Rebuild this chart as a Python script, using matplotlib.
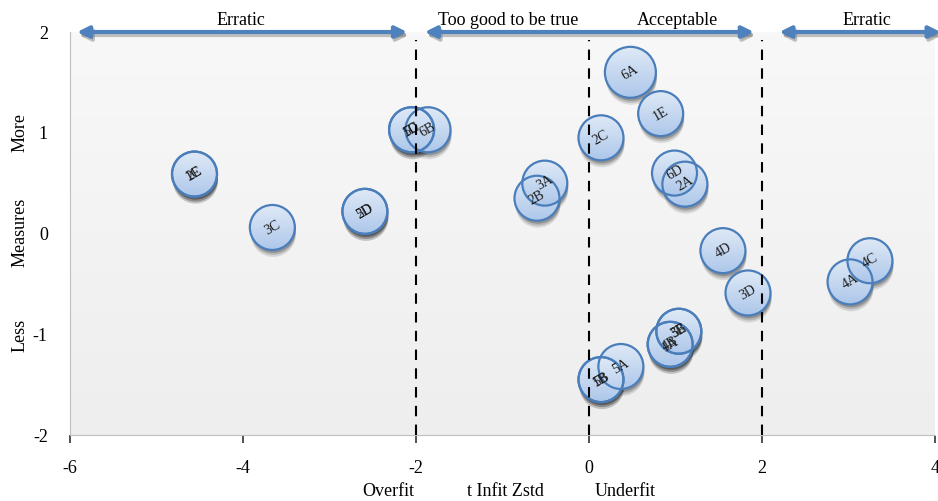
import numpy as np
import matplotlib
matplotlib.use('Agg')
from matplotlib import pyplot as plt
from matplotlib.patches import Ellipse, FancyArrowPatch

plt.rcParams['font.family'] = ['Liberation Serif', 'DejaVu Serif']
plt.rcParams['axes.unicode_minus'] = False

# items: label, infit zstd, measure
labels = ['1C', '2E', '3C', '2D', '5D', '6B', '1D', '5C', '6A', '1E', '2C',
          '2B', '3A', '2A', '6D', '4D', '3D', '4A', '4C', '5A', '1B', '5B',
          '1A', '4B', '5E', '3B']
infit = [-4.56, -4.56, -3.66, -2.59, -2.59, -1.86, -2.05, -2.05, 0.48, 0.83, 0.14,
         -0.60, -0.51, 1.11, 0.99, 1.55, 1.84, 3.02, 3.25, 0.37, 0.14, 0.14,
         0.94, 0.94, 1.04, 1.04]
measure = [0.59, 0.59, 0.06, 0.22, 0.22, 1.03, 1.03, 1.03, 1.60, 1.19, 0.95,
           0.35, 0.50, 0.49, 0.60, -0.17, -0.59, -0.48, -0.27, -1.32, -1.45, -1.45,
           -1.10, -1.10, -0.97, -0.97]
big = ['6A']

zones = ['Erratic', 'Too good to be true', 'Acceptable', 'Erratic']
zone_x = [-4.02, -0.93, 1.02, 3.21]
arrow_spans = [(-5.95, -2.07), (-1.93, 1.94), (2.17, 4.1)]
cut_lines = [-2, 0, 2]

fig = plt.figure(figsize=(9.38, 5.01), dpi=100)
ax = fig.add_axes([0.0746, 0.1317, 0.922, 0.8044])
ax.set_xlim(-6, 4)
ax.set_ylim(-2, 2)

# background gradient
grad = np.linspace(0, 1, 100).reshape(-1, 1)
bg = plt.matplotlib.colors.LinearSegmentedColormap.from_list('bg', ['#eeeeee', '#f8f8f8'])
ax.imshow(grad, extent=(-6, 4, -2, 2), origin='lower', aspect='auto', cmap=bg, zorder=0)

# bubble size in data units (pixels -> data)
px_x = 86.5
px_y = 100.75
bub = plt.matplotlib.colors.LinearSegmentedColormap.from_list('bub', ['#adc7ea', '#e0eaf7'])
for lab, x, y in zip(labels, infit, measure):
    d = 51 if lab in big else 45
    w, h = d / px_x, d / px_y
    # soft shadow
    for k, a in zip([7, 5, 3], [0.12, 0.18, 0.25]):
        sh = Ellipse((x + 1 / px_x, y - k / px_y), w, h, facecolor='#222222',
                     edgecolor='none', alpha=a, zorder=2)
        ax.add_patch(sh)
    e = Ellipse((x, y), w, h, facecolor='none', edgecolor='#4a7ebb', lw=1.6, zorder=4)
    fill = ax.imshow(grad, extent=(x - w / 2, x + w / 2, y - h / 2, y + h / 2),
                     origin='lower', aspect='auto', cmap=bub, zorder=3)
    clip = Ellipse((x, y), w, h, transform=ax.transData)
    fill.set_clip_path(clip)
    ax.add_patch(e)
    ax.text(x, y, lab, rotation=30, ha='center', va='center', fontsize=10,
            color='#1a1a1a', zorder=5)

ax.set_xlim(-6, 4)
ax.set_ylim(-2, 2)

for cx in cut_lines:
    ax.plot([cx, cx], [-2, 1.92], color='black', lw=1.5, ls=(0, (5, 4)), zorder=6)

# arrows on top
for x0, x1 in arrow_spans:
    sh = FancyArrowPatch((x0 + 0.02, 1.97), (x1 + 0.02, 1.97), arrowstyle='<|-|>',
                         mutation_scale=17, color='#7a7a7a', alpha=0.45, lw=3,
                         clip_on=False, zorder=7)
    ax.add_patch(sh)
    ar = FancyArrowPatch((x0, 2), (x1, 2), arrowstyle='<|-|>', mutation_scale=17,
                         color='#4f81bd', lw=3, clip_on=False, zorder=8)
    ax.add_patch(ar)
for t, x in zip(zones, zone_x):
    ax.text(x, 2.03, t, ha='center', va='bottom', fontsize=13, zorder=9)

for s in ['top', 'right']:
    ax.spines[s].set_visible(False)
ax.spines['left'].set_color('#bfbfbf')
ax.spines['bottom'].set_color('#bfbfbf')
ax.set_xticks([-6, -4, -2, 0, 2, 4])
ax.set_yticks([-2, -1, 0, 1, 2])
ax.tick_params(axis='x', length=6, width=1.2, color='#333333', pad=12, labelsize=13)
ax.tick_params(axis='y', length=0, pad=16, labelsize=13)

fig.text(388 / 938, 1 - 492 / 501, 'Overfit', ha='center', va='center', fontsize=13)
fig.text(505 / 938, 1 - 492 / 501, 't Infit Zstd', ha='center', va='center', fontsize=13)
fig.text(625 / 938, 1 - 492 / 501, 'Underfit', ha='center', va='center', fontsize=13)
fig.text(20 / 938, 1 - 132 / 501, 'More', rotation=90, ha='center', va='center', fontsize=13)
fig.text(20 / 938, 1 - 232 / 501, 'Measures', rotation=90, ha='center', va='center', fontsize=13)
fig.text(20 / 938, 1 - 335 / 501, 'Less', rotation=90, ha='center', va='center', fontsize=13)

fig.savefig('out.png', dpi=100, facecolor='white')
